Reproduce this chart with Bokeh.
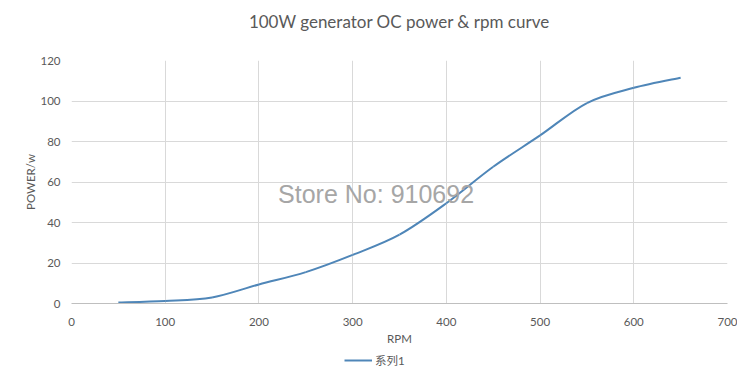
from bokeh.plotting import figure
from bokeh.layouts import column
from bokeh.models import Range1d, FixedTicker, Legend, LegendItem, Label, Title
from bokeh.embed import file_html
from bokeh.resources import INLINE

rpm = [50, 100, 150, 200, 250, 300, 350, 400, 450, 500, 550, 600, 650]
power = [0.5, 1.2, 3.0, 9.4, 15.5, 24.0, 34.0, 49.5, 67.5, 83.0, 99.0, 106.5, 111.5]
x_ticks = [0, 100, 200, 300, 400, 500, 600, 700]
y_ticks = [0, 20, 40, 60, 80, 100, 120]
series_name = "系列1"
title_text = "100W generator OC power & rpm curve"
watermark = "Store No: 910692"

TXT = "#595959"
GRID = "#d9d9d9"
LINE = "#4f86b8"

p = figure(width=737, height=348, output_backend="svg", toolbar_location=None,
           x_range=Range1d(0, 700), y_range=Range1d(0, 120),
           min_border_left=71, min_border_right=10, min_border_top=10, min_border_bottom=45)
p.title = None
t = Title(text=title_text + "\n", align="center", text_font="Lato",
          text_font_size="17px", text_font_style="normal", text_color=TXT, standoff=16)
p.add_layout(t, "above")

p.outline_line_color = None
p.background_fill_color = "white"
p.border_fill_color = "white"

for ax in (p.xaxis[0], p.yaxis[0]):
    ax.major_tick_line_color = None
    ax.minor_tick_line_color = None
    ax.major_label_text_font = "Lato"
    ax.major_label_text_font_size = "11.5px"
    ax.major_label_text_color = TXT
    ax.axis_label_text_font = "Lato"
    ax.axis_label_text_font_size = "11.5px"
    ax.axis_label_text_font_style = "normal"
    ax.axis_label_text_color = TXT

p.xaxis.ticker = FixedTicker(ticks=x_ticks)
p.yaxis.ticker = FixedTicker(ticks=y_ticks)
p.xaxis.axis_label = "RPM"
p.yaxis.axis_label = "POWER/w"
p.xaxis.axis_line_color = "#bfbfbf"
p.yaxis.axis_line_color = None
p.xaxis.major_label_standoff = 8
p.yaxis.major_label_standoff = 5
p.xaxis.axis_label_standoff = 3
p.yaxis.axis_label_standoff = 0

p.xgrid.grid_line_color = GRID
p.ygrid.grid_line_color = GRID

# smoothed line (Excel-style): cubic Bezier segments through the data points
n = len(rpm)
x0, y0, x1, y1, cx0, cy0, cx1, cy1 = [], [], [], [], [], [], [], []
for i in range(n - 1):
    xa, ya = rpm[i], power[i]
    xb, yb = rpm[i + 1], power[i + 1]
    xp, yp = (rpm[i - 1], power[i - 1]) if i > 0 else (xa, ya)
    xn, yn = (rpm[i + 2], power[i + 2]) if i + 2 < n else (xb, yb)
    x0.append(xa); y0.append(ya); x1.append(xb); y1.append(yb)
    cx0.append(xa + (xb - xp) / 6); cy0.append(ya + (yb - yp) / 6)
    cx1.append(xb - (xn - xa) / 6); cy1.append(yb - (yn - ya) / 6)
p.bezier(x0=x0, y0=y0, x1=x1, y1=y1, cx0=cx0, cy0=cy0, cx1=cx1, cy1=cy1,
         line_color=LINE, line_width=2)

wm = Label(x=325, y=54, text=watermark, text_align="center", text_baseline="middle",
           text_font="Liberation Sans", text_font_size="25px", text_color="#a6a6a6")
p.add_layout(wm)

# legend strip (its renderer lies outside this strip's ranges, so only the key shows)
q = figure(width=737, height=22, output_backend="svg", toolbar_location=None,
           x_range=Range1d(0, 1), y_range=Range1d(0, 1),
           min_border_left=0, min_border_right=0, min_border_top=0, min_border_bottom=0)
q.axis.visible = False
q.grid.visible = False
q.outline_line_color = None
q.border_fill_color = "white"
q.background_fill_color = "white"
r = q.line(rpm, power, line_color=LINE, line_width=2)
legend = Legend(items=[LegendItem(label=series_name, renderers=[r])],
                orientation="horizontal", location=(273, 0),
                label_text_font="Lato, 'Noto Sans CJK SC'", label_text_font_size="11.5px",
                label_text_color=TXT, border_line_color=None, background_fill_alpha=0,
                glyph_width=28, label_standoff=3, padding=2, margin=0)
q.add_layout(legend, "center")

layout = column(p, q, spacing=0)
open("out.html", "w").write(file_html(layout, INLINE))
